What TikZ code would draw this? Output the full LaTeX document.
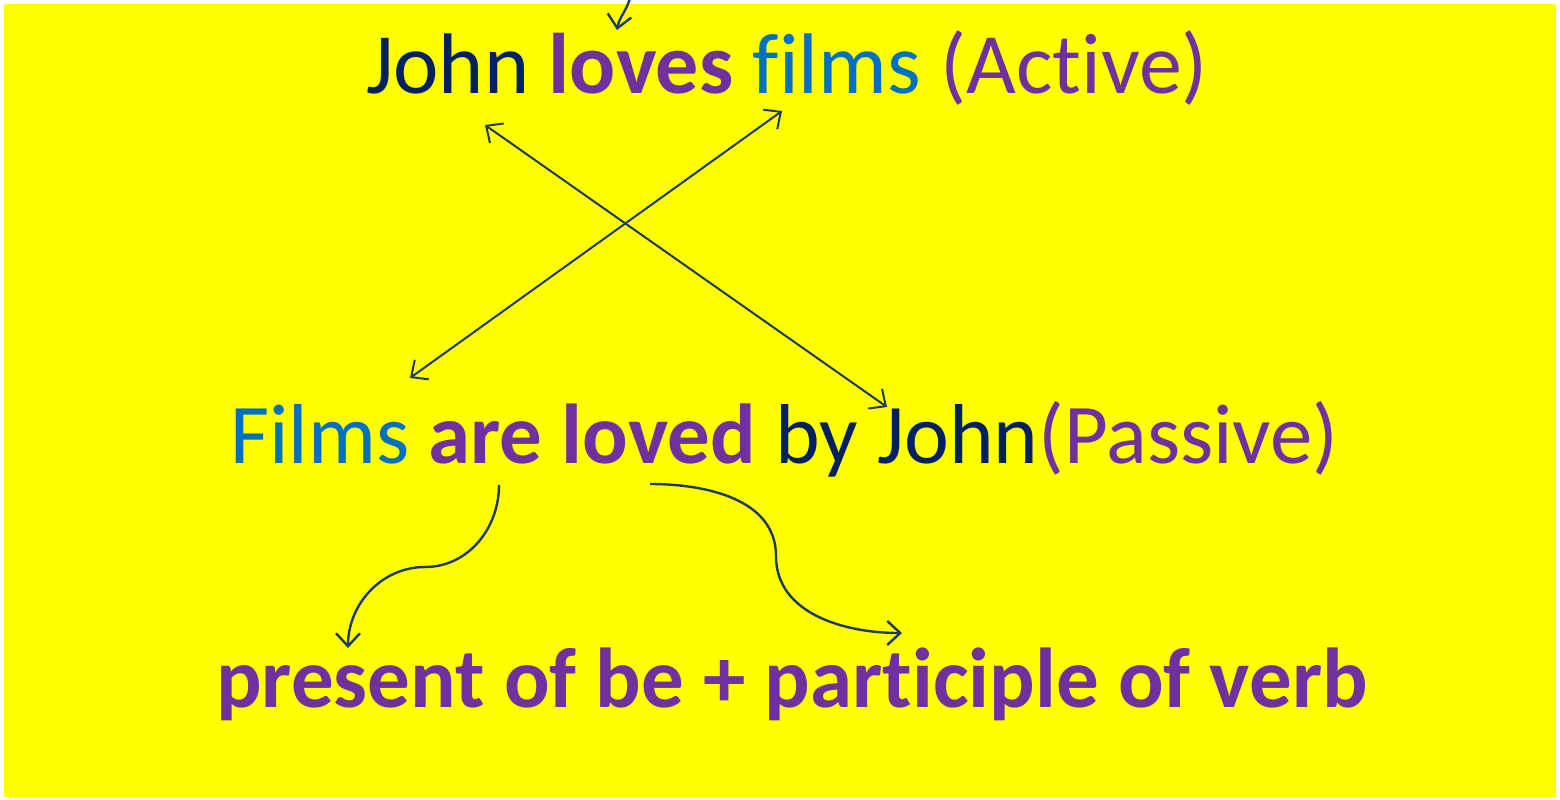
\documentclass[tikz,border=0pt]{standalone}
\usepackage{fontspec}
\setmainfont{Carlito}[RawFeature={-liga;-dlig;-clig}]
\usetikzlibrary{arrows.meta}
\definecolor{navy}{HTML}{002060}
\definecolor{purp}{HTML}{7030A0}
\definecolor{blu}{HTML}{0070C0}
\definecolor{arrc}{HTML}{1F3864}
\definecolor{bgy}{HTML}{FFFF00}
\begin{document}
\begin{tikzpicture}[x=1pt,y=-1pt,
  txt/.style={inner sep=0pt,anchor=base west,font=\fontsize{86}{100}\selectfont},
  txtb/.style={inner sep=0pt,anchor=base west,font=\fontsize{85}{100}\selectfont},
  arr/.style={draw=arrc,line width=2.4pt,-{Straight Barb[length=13pt,width=24pt,line width=2.4pt]}},
  darr/.style={draw=arrc,line width=2pt,{Straight Barb[length=13pt,width=24pt,line width=2pt]}-{Straight Barb[length=13pt,width=24pt,line width=2pt]}}]
\useasboundingbox (0,0) rectangle (1560,800);
\fill[white] (0,0) rectangle (1560,800);
\fill[bgy] (4,4) rectangle (1556,797);
\node[txt] (l1) at (366,93) {\color{navy}John \textbf{\color{purp}loves} \color{blu}films \color{purp}(Active)};
\node[txtb] (l2) at (230,463) {\color{blu}Films \textbf{\color{purp}are loved} \color{navy}by John\color{purp}(Passive)};
\node[txtb] (l3) at (216,707) {\bfseries\color{purp}present of be + participle of verb};
% coordinates for connectors
\coordinate (t0) at (630,-2);
\coordinate (t1) at (617,30);
\coordinate (a1) at (485,125);
\coordinate (a2) at (887,407);
\coordinate (b1) at (782,111);
\coordinate (b2) at (410,378);
\coordinate (c1s) at (499,485);
\coordinate (c1m) at (425,567);
\coordinate (c1e) at (348,648);
\coordinate (c2s) at (650,484);
\coordinate (c2m) at (776,556);
\coordinate (c2e) at (902,633);
\draw[arr] (t0) to[out=-105,in=80] (t1);
\draw[darr] (a1) -- (a2);
\draw[darr] (b1) -- (b2);
\draw[arr] (c1s) to[out=-90,in=0] (c1m) to[out=180,in=90] (c1e);
\draw[arr] (c2s) to[out=0,in=90] (c2m) to[out=-90,in=180] (c2e);
\end{tikzpicture}
\end{document}
